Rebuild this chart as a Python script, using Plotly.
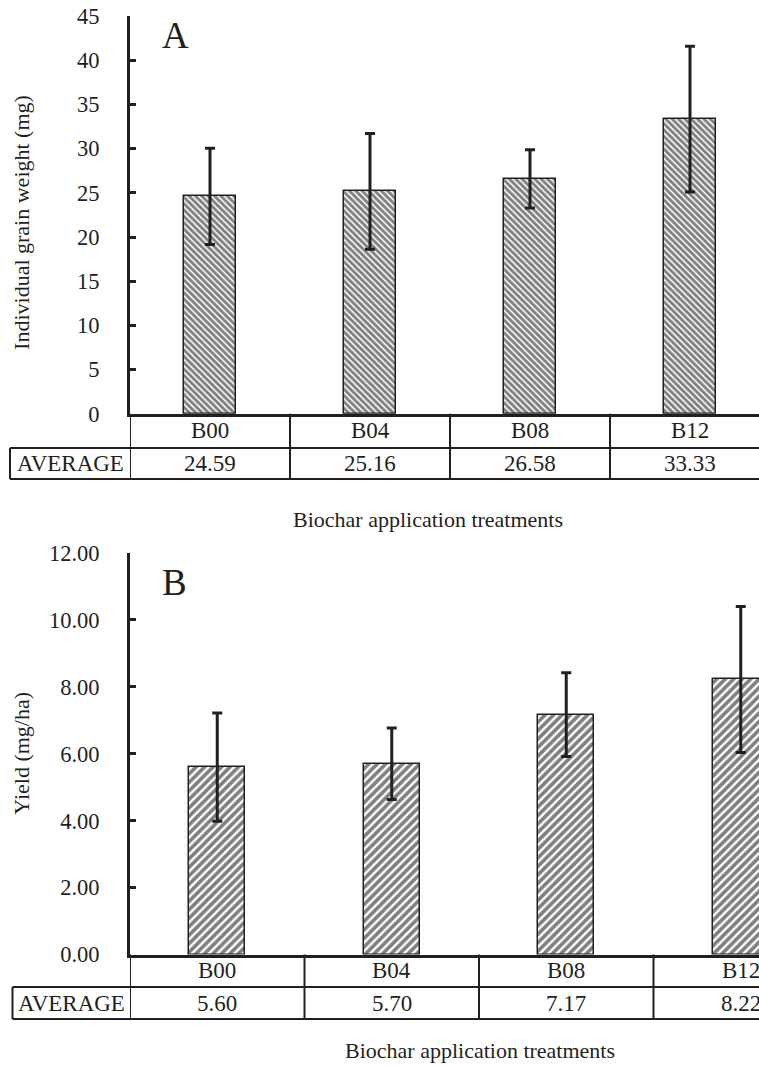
import plotly.graph_objects as go

categories = ["B00", "B04", "B08", "B12"]
grain_weight = [24.59, 25.16, 26.58, 33.33]
grain_weight_err = [5.45, 6.55, 3.3, 8.25]
yield_vals = [5.60, 5.70, 7.17, 8.22]
yield_err = [1.62, 1.07, 1.25, 2.18]

W, H = 759, 1066
L = 130
INK = "#231f20"
FONT = "Liberation Serif"

def px(xp):
    return (xp - L) / (W - L)

def py(yp):
    return 1 - yp / H

fig = go.Figure()
xs = list(range(len(categories)))

fig.add_trace(go.Bar(
    x=xs, y=grain_weight, width=0.325, xaxis="x", yaxis="y",
    marker=dict(color="white", line=dict(color=INK, width=1.5),
                pattern=dict(shape="\\", size=4.5, solidity=0.65, fgcolor="#000", bgcolor="white")),
    error_y=dict(type="data", array=grain_weight_err, visible=True, thickness=3, width=5, color=INK),
    showlegend=False))

fig.add_trace(go.Bar(
    x=xs, y=yield_vals, width=0.32, xaxis="x2", yaxis="y2",
    marker=dict(color="white", line=dict(color=INK, width=1.5),
                pattern=dict(shape="/", size=6, solidity=0.6, fgcolor="#000", bgcolor="white")),
    error_y=dict(type="data", array=yield_err, visible=True, thickness=3, width=5, color=INK),
    showlegend=False))

top_px, bot_px = 16, 413.8
top2_px, bot2_px = 553, 954.5
unit1 = 160.0
unit2 = 174.5

axis_common = dict(showgrid=False, zeroline=False, showline=True, linecolor=INK, linewidth=3,
                   automargin=False)
tickfont = dict(family=FONT, size=22.5, color=INK)
fig.update_layout(
    width=W, height=H,
    margin=dict(l=L, r=0, t=0, b=0, pad=0, autoexpand=False),
    paper_bgcolor="white", plot_bgcolor="white",
    font=dict(family=FONT, size=23, color=INK),
    bargap=0,
    xaxis=dict(domain=[0, 1], range=[-0.5, -0.5 + (W - L) / unit1], showticklabels=False, ticks="",
               anchor="y", **axis_common),
    yaxis=dict(domain=[py(bot_px), py(top_px)], range=[0, 45], dtick=5, ticks="inside", ticklen=6,
               tickwidth=3, tickcolor=INK, ticklabelstandoff=23, anchor="x",
               tickfont=tickfont, **axis_common),
    xaxis2=dict(domain=[0, 1], range=[-0.5, -0.5 + (W - L) / unit2], showticklabels=False, ticks="",
                anchor="y2", **axis_common),
    yaxis2=dict(domain=[py(bot2_px), py(top2_px)], range=[0, 12], dtick=2, tickformat=".2f",
                ticks="inside", ticklen=6, tickwidth=3, tickcolor=INK, ticklabelstandoff=23, anchor="x2",
                tickfont=tickfont, **axis_common),
)

shapes = []
annotations = []

def ann(x, y, text, size=23, xref="paper", angle=0):
    annotations.append(dict(x=x, y=y, xref=xref, yref="paper", text=text, showarrow=False,
                            xanchor="center", yanchor="middle", textangle=angle,
                            font=dict(family=FONT, size=size, color=INK)))

def add_table(xref, axis_px, row1_px, row2_px, avg_left_px, values):
    line = dict(color=INK, width=2)
    shapes.append(dict(type="line", xref="paper", yref="paper", x0=px(avg_left_px), x1=1.02,
                       y0=py(row1_px), y1=py(row1_px), line=line))
    shapes.append(dict(type="line", xref="paper", yref="paper", x0=px(avg_left_px), x1=1.02,
                       y0=py(row2_px), y1=py(row2_px), line=line))
    shapes.append(dict(type="line", xref="paper", yref="paper", x0=px(avg_left_px), x1=px(avg_left_px),
                       y0=py(row1_px), y1=py(row2_px), line=line))
    for i in range(len(categories) + 1):
        shapes.append(dict(type="line", xref=xref, yref="paper", x0=i - 0.5, x1=i - 0.5,
                           y0=py(axis_px), y1=py(row2_px), line=line))
    for i, (c, v) in enumerate(zip(categories, values)):
        ann(i, py((axis_px + row1_px) / 2), c, xref=xref)
        ann(i, py((row1_px + row2_px) / 2), f"{v:.2f}", xref=xref)
    ann(px((avg_left_px + L) / 2), py((row1_px + row2_px) / 2), "AVERAGE")

add_table("x", bot_px, 448, 479, 10, grain_weight)
add_table("x2", bot2_px, 987, 1019, 12.5, yield_vals)

# panel letters
ann(px(175), py(36), "A", size=37)
ann(px(174), py(582), "B", size=37)
# y titles
ann(px(22), py((top_px + bot_px) / 2 + 8), "Individual grain weight (mg)", size=22, angle=-90)
ann(px(22), py((top2_px + bot2_px) / 2), "Yield (mg/ha)", size=22, angle=-90)
# x titles
ann(px(428), py(519), "Biochar application treatments", size=22)
ann(px(480), py(1050), "Biochar application treatments", size=22)

fig.update_layout(shapes=shapes, annotations=annotations)
fig.write_html("out.html", config={"displayModeBar": False},
               post_script="document.body.style.margin='0';document.body.style.overflow='hidden';")
